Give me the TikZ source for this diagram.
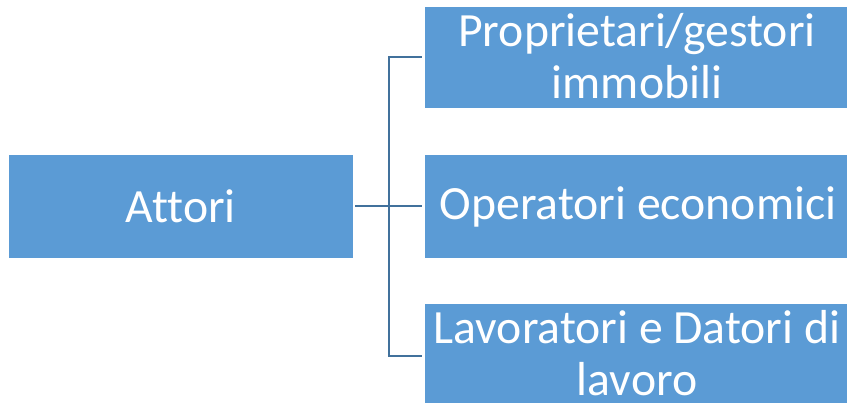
\documentclass[tikz,border=0pt]{standalone}
\usepackage{fontspec}
\setmainfont[Ligatures=NoCommon]{Carlito}
\definecolor{boxblue}{HTML}{5B9BD5}
\definecolor{lineblue}{HTML}{41719C}
\begin{document}
\begin{tikzpicture}[x=1pt,y=1pt,
  lbl/.style={text=white,align=center,inner sep=0pt,font=\fontsize{47.7}{52}\selectfont},
  conn/.style={draw=lineblue,line width=2pt}]
\useasboundingbox (0,0) rectangle (847,403);
% boxes (y flipped: y = 403 - yimg)
\fill[boxblue] (9,145) rectangle (352.7,248);
\node[lbl] (attori) at (180.8,196.5) {Attori};
\fill[boxblue] (425,294.5) rectangle (847,396.3);
\node[lbl] (prop) at (637,346.5) {Proprietari/gestori\\immobili};
\fill[boxblue] (425,145) rectangle (847,247.5);
\node[lbl] (oper) at (638,196.5) {Operatori economici};
\fill[boxblue] (425,0.3) rectangle (847,98.7);
\node[lbl] (lav) at (637,50) {Lavoratori e Datori di\\lavoro};
% connectors
\coordinate (s) at (355,197);
\coordinate (j) at (388.5,197);
\coordinate (t1) at (421.7,346);
\coordinate (t2) at (421.7,197);
\coordinate (t3) at (421.7,47);
\draw[conn] (s) -- (t2);
\draw[conn] (t1) -| (j) |- (t3);
\end{tikzpicture}
\end{document}
